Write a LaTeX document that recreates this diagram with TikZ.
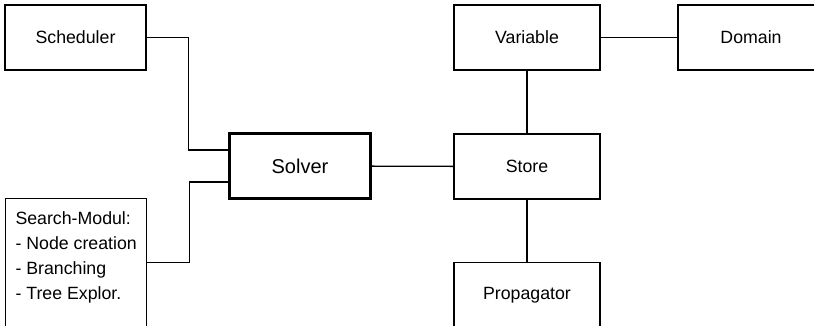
\documentclass[tikz,border=0pt]{standalone}
\usepackage{fontspec}
\setmainfont{Liberation Sans}
\usetikzlibrary{positioning, calc}

\begin{document}
\begin{tikzpicture}[x=0.75pt, y=-0.75pt, line width=1pt,
    every node/.style={font=\fontsize{13.3}{18.75}\selectfont},
    block/.style={draw, minimum width=105.75pt, minimum height=48.75pt, inner sep=0pt},
    wideblock/.style={block, minimum width=109.5pt}]
        \clip (0,0) rectangle (814,325);

        % Solver und Module links
        \node[block] (sched) at (75.5,37.5) {Scheduler};
        \node[block, line width=2.25pt, font=\fontsize{15}{18}\selectfont] (solver) at (300,166) {Solver};
        \node[block, minimum height=96pt, align=left, text depth=10.5pt, anchor=north west] (search) at (5,198) {
            Search-Modul:\\- Node creation\\- Branching\\- Tree Explor.
        };

        % Store mit Variablen und Propagatoren
        \node[wideblock] (store) at (527,166.5) {Store};
        \node[wideblock] (var) at (527,37.5) {Variable};
        \node[wideblock] (dom) at (751,37.5) {Domain};
        \node[wideblock] (prop) at (527,295) {Propagator};

        % Verbindungen
        \draw (sched.east) -- ++(42,0) |- ([yshift=12pt]solver.west);
        \draw (search.east) -- ++(42,0) |- ([yshift=-12pt]solver.west);
        \draw (solver) -- (store);
        \draw (var) -- (store);
        \draw (var) -- (dom);
        \draw (store) -- (prop);

    \end{tikzpicture}
\end{document}
